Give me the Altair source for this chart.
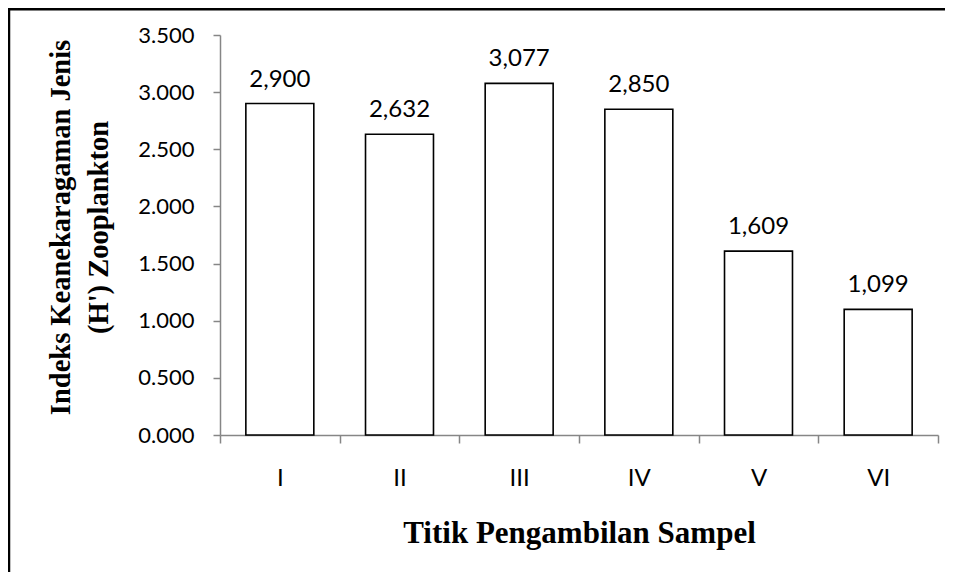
import altair as alt
import pandas as pd

categories = ["I", "II", "III", "IV", "V", "VI"]
values = [2.900, 2.632, 3.077, 2.850, 1.609, 1.099]
y_ticks = [0.0, 0.5, 1.0, 1.5, 2.0, 2.5, 3.0, 3.5]
y_title = ["Indeks Keanekaragaman Jenis", "(H') Zooplankton"]
x_title = "Titik Pengambilan Sampel"

df = pd.DataFrame({"titik": categories, "h": values})

AX = "#868686"
SERIF = "Liberation Serif"
SANS = "Lato"

x_enc = alt.X(
    "titik:N",
    sort=categories,
    scale=alt.Scale(paddingInner=0, paddingOuter=0),
    axis=alt.Axis(
        title=x_title,
        labelAngle=0,
        tickBand="extent",
        tickSize=8,
        tickWidth=1.5,
        tickColor=AX,
        domainColor=AX,
        domainWidth=1.5,
        labelPadding=23,
        labelFont=SANS,
        labelFontSize=24,
        labelColor="black",
        titleFont=SERIF,
        titleFontSize=31,
        titleFontWeight="bold",
        titleColor="black",
        titleX=359,
        titleY=107,
        titleBaseline="alphabetic",
        titleAlign="center",
        grid=False,
    ),
)

y_enc = alt.Y(
    "h:Q",
    scale=alt.Scale(domain=[0, 3.5], nice=False),
    axis=alt.Axis(
        values=y_ticks,
        format=".3f",
        tickSize=7,
        tickWidth=1.5,
        tickColor=AX,
        domainColor=AX,
        domainWidth=1.5,
        labelPadding=19,
        labelFont=SANS,
        labelFontSize=22,
        labelColor="black",
        title=y_title,
        titleFont=SERIF,
        titleFontSize=28.5,
        titleFontWeight="bold",
        titleColor="black",
        titleX=-160,
        titleY=192,
        titleAngle=270,
        titleBaseline="middle",
        titleAlign="center",
        titleLineHeight=38,
        grid=False,
    ),
)

base = alt.Chart(df)

bars = base.mark_bar(
    fill="white", stroke="black", strokeWidth=1.6, width=alt.RelativeBandSize(0.568)
).encode(x=x_enc, y=y_enc)

labels = base.transform_calculate(
    lbl="replace(format(datum.h, '.3f'), '.', ',')"
).mark_text(
    dy=-17, baseline="alphabetic", font=SANS, fontSize=24, color="black"
).encode(x=alt.X("titik:N", sort=categories), y=alt.Y("h:Q"), text="lbl:N")

frame_df = pd.DataFrame({"k": [0]})
top_line = alt.Chart(frame_df).mark_rule(color="black", strokeWidth=2.5).encode(
    x=alt.value(-215), x2=alt.value(760), y=alt.value(-25.8)
)
left_line = alt.Chart(frame_df).mark_rule(color="black", strokeWidth=2.5).encode(
    x=alt.value(-211), y=alt.value(-30), y2=alt.value(560)
)

chart = (
    alt.layer(bars, labels, top_line, left_line)
    .properties(
        width=718,
        height=400,
        autosize=alt.AutoSizeParams(type="none"),
        padding={"left": 212, "top": 27, "right": 7, "bottom": 137},
        background="white",
    )
    .configure_view(stroke=None)
)

chart.save("out.html", embed_options={"renderer": "svg", "actions": False})
